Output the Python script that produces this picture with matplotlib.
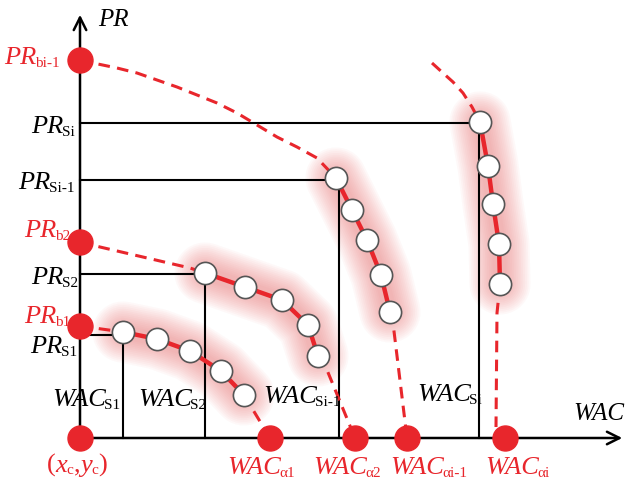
"""
Schematic: PR vs WAC curves with sampled points and boundary intercepts.
"""
import numpy as np
import matplotlib
matplotlib.use('Agg')
import matplotlib.pyplot as plt

plt.rcParams['font.family'] = ['Liberation Serif', 'DejaVu Serif']

RED = '#e8262c'

# intercepts on the PR axis (b) and on the WAC axis (alpha)
PR_b = [378, 196, 112]              # bi-1, b2, b1
WAC_alpha = [190, 275, 327, 425]    # a1, a2, ai-1, ai

# corner points (WAC_s, PR_s) of each sampled segment
WAC_s = [43, 125, 259, 399]         # S1, S2, Si-1, Si
PR_s = [103, 164, 258, 315]

# sampled points (white circles) per curve
pts_wac = [
    [43, 77, 110, 141, 164],
    [125, 165, 202, 228, 238],
    [256, 272, 287, 301, 310],
    [400, 408, 413, 419, 420],
]
pts_pr = [
    [106, 99, 87, 67, 43],
    [165, 151, 138, 113, 82],
    [260, 228, 198, 163, 126],
    [316, 272, 234, 194, 154],
]

# dashed extrapolations: toward PR axis (head) and toward WAC axis (tail)
head_wac = [
    [0, 43],
    [0, 20, 110, 125],
    [0, 13, 37, 57, 77, 97, 117, 137, 157, 177, 197, 217, 237, 256],
    [352, 363, 373, 383, 392, 400],
]
head_pr = [
    [112, 106],
    [196, 191, 170, 165],
    [378, 375, 370, 365, 358, 351, 343, 335, 325, 313, 301, 291, 280, 260],
    [375, 365, 356, 345, 331, 316],
]
tail_wac = [[164, 190], [238, 247, 275], [310, 313, 327], [420, 417, 416]]
tail_pr = [[43, 0], [82, 68, 0], [126, 115, 0], [154, 125, 11]]

fig = plt.figure(figsize=(6.28, 4.86), dpi=100)
ax = fig.add_axes([0, 0, 1, 1])
ax.set_xlim(-80, 548)
ax.set_ylim(-48, 438)
ax.axis('off')

# axes with open arrow heads
ax.annotate('', xy=(0, 426), xytext=(0, -1),
            arrowprops=dict(arrowstyle='->,head_length=0.9,head_width=0.45', lw=1.8, color='k'))
ax.annotate('', xy=(545, 0), xytext=(-1, 0),
            arrowprops=dict(arrowstyle='->,head_length=0.9,head_width=0.45', lw=1.8, color='k'))

# reference lines
for ws, ps in zip(WAC_s, PR_s):
    ax.plot([0, ws], [ps, ps], color='k', lw=1.5, zorder=2)
    ax.plot([ws, ws], [0, ps], color='k', lw=1.5, zorder=2)

dash = (0, (3.8, 2.4))
for k in range(4):
    ax.plot(head_wac[k], head_pr[k], color=RED, lw=2.2, ls=dash, zorder=3)
    ax.plot(tail_wac[k], tail_pr[k], color=RED, lw=2.2, ls=dash, zorder=3)
    # soft glow around the sampled segment
    for lw in np.linspace(44, 10, 14):
        ax.plot(pts_wac[k], pts_pr[k], color='#f06a6a', alpha=0.045, lw=lw,
                solid_capstyle='round', solid_joinstyle='round', zorder=1)
    ax.plot(pts_wac[k], pts_pr[k], color=RED, lw=3.2, solid_capstyle='round', zorder=4)
    ax.plot(pts_wac[k], pts_pr[k], 'o', ms=16, mfc='white', mec='#555555', mew=1.2, zorder=5)

# intercept dots
ax.plot([0] * len(PR_b), PR_b, 'o', ms=18, color=RED, zorder=6)
ax.plot(WAC_alpha, [0] * len(WAC_alpha), 'o', ms=18, color=RED, zorder=6)
ax.plot([0], [0], 'o', ms=18, color=RED, zorder=6)

FS, SFS = 19, 11


def label(x, y, main, sub, color='k', ha='left'):
    """italic main text with a small upright subscript; (x, y) = main text centre-line"""
    if ha == 'left':
        t = ax.text(x, y, main, fontsize=FS, style='italic', color=color,
                    ha='left', va='center')
        ax.annotate(sub, xy=(1, 0), xycoords=t, xytext=(-1, -0.5),
                    textcoords='offset points', fontsize=SFS, color=color,
                    ha='left', va='bottom')
    else:
        s = ax.annotate(sub, xy=(x, y), xytext=(0, -11.5), textcoords='offset points',
                        fontsize=SFS, color=color, ha='right', va='bottom')
        ax.annotate(main, xy=(0, 0), xycoords=s, xytext=(1, 0.5),
                    textcoords='offset points', fontsize=FS, style='italic',
                    color=color, ha='right', va='bottom')


# axis titles
ax.text(18, 418, 'PR', fontsize=18, style='italic', ha='left', va='center')
ax.text(493, 24, 'WAC', fontsize=18, style='italic', ha='left', va='center')

# PR-axis labels
label(-20, 384, 'PR', 'bi-1', RED, 'right')
label(-5, 315, 'PR', 'Si', 'k', 'right')
label(-5, 259, 'PR', 'Si-1', 'k', 'right')
label(-10, 211, 'PR', 'b2', RED, 'right')
label(-2, 164, 'PR', 'S2', 'k', 'right')
label(-10, 125, 'PR', 'b1', RED, 'right')
label(-3, 95, 'PR', 'S1', 'k', 'right')

# WAC labels
label(-28, 38, 'WAC', 'S1')
label(58, 38, 'WAC', 'S2')
label(183, 41, 'WAC', 'Si-1')
label(337, 43, 'WAC', 'Si')
label(147, -30, 'WAC', 'α1', RED)
label(233, -30, 'WAC', 'α2', RED)
label(310, -30, 'WAC', 'αi-1', RED)
label(405, -30, 'WAC', 'αi', RED)

# origin label (x_c, y_c)
t = ax.text(-33, -27, '(', fontsize=FS, color=RED, ha='left', va='center')
t = ax.annotate('x', xy=(1, 0), xycoords=t, fontsize=FS, style='italic', color=RED,
                ha='left', va='bottom')
t = ax.annotate('c', xy=(1, 0), xycoords=t, xytext=(-0.5, -0.5), textcoords='offset points',
                fontsize=SFS, color=RED, ha='left', va='bottom')
t = ax.annotate(',', xy=(1, 0), xycoords=t, xytext=(0, 0.5), textcoords='offset points',
                fontsize=FS, color=RED, ha='left', va='bottom')
t = ax.annotate('y', xy=(1, 0), xycoords=t, fontsize=FS, style='italic', color=RED,
                ha='left', va='bottom')
t = ax.annotate('c', xy=(1, 0), xycoords=t, xytext=(-0.5, -0.5), textcoords='offset points',
                fontsize=SFS, color=RED, ha='left', va='bottom')
ax.annotate(')', xy=(1, 0), xycoords=t, xytext=(0, 0.5), textcoords='offset points',
            fontsize=FS, color=RED, ha='left', va='bottom')

plt.savefig('out.png', dpi=100)
